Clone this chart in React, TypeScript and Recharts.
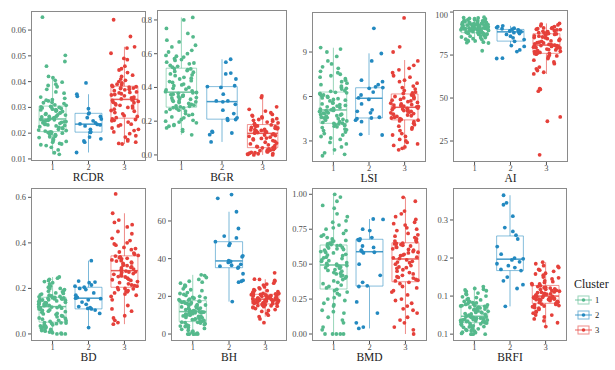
import { ComposedChart, Scatter, XAxis, YAxis, ReferenceArea, ReferenceLine } from 'recharts'

const clusters = [1, 2, 3]
const clusterNames = ['1', '2', '3']
const clusterColors = ['#55b98c', '#2389c0', '#e5403a']
const serif = '"Liberation Serif", "Times New Roman", serif'

// RCDR
const rcdr1 = [0.0118, 0.0124, 0.0145, 0.0152, 0.0158, 0.016, 0.0165, 0.0172, 0.0178, 0.0183, 0.0188, 0.0192, 0.0196, 0.02, 0.0203, 0.0205,
  0.0208, 0.021, 0.0215, 0.0218, 0.022, 0.0225, 0.0228, 0.023, 0.0234, 0.0238, 0.024, 0.0244, 0.0247, 0.025, 0.0252, 0.0254,
  0.0256, 0.026, 0.0263, 0.0266, 0.027, 0.0273, 0.0276, 0.028, 0.0284, 0.0288, 0.029, 0.0293, 0.0296, 0.03, 0.0302, 0.0304,
  0.0308, 0.0315, 0.032, 0.0325, 0.033, 0.034, 0.0355, 0.037, 0.0385, 0.039, 0.0405, 0.0415, 0.046, 0.0478, 0.0502, 0.065,
  0.0135, 0.0155, 0.0168, 0.0175, 0.0186, 0.0194, 0.0199, 0.0204, 0.0212, 0.0222, 0.0232, 0.0236, 0.0242, 0.0245, 0.0249, 0.0253,
  0.0258, 0.0265, 0.0271, 0.0278, 0.0286, 0.0291, 0.0298, 0.0301, 0.031, 0.0318, 0.0328, 0.0335, 0.036, 0.038, 0.0398, 0.042]
const rcdr2 = [0.0125, 0.0165, 0.017, 0.0178, 0.0185, 0.0203, 0.0205, 0.0206, 0.0215, 0.0228, 0.0232, 0.0234, 0.0236, 0.024, 0.0248, 0.0255,
  0.026, 0.0265, 0.0275, 0.0278, 0.0295, 0.0343, 0.0351, 0.0395]
const rcdr3 = [0.0158, 0.016, 0.0165, 0.0175, 0.019, 0.0198, 0.0205, 0.021, 0.022, 0.0228, 0.0235, 0.0243, 0.025, 0.0255,
  0.026, 0.0268, 0.0275, 0.028, 0.0288, 0.0293, 0.03, 0.0305, 0.031, 0.0315, 0.032, 0.0323, 0.0327, 0.033,
  0.0333, 0.0337, 0.034, 0.0345, 0.035, 0.0353, 0.0358, 0.036, 0.0365, 0.037, 0.0373, 0.0376, 0.0379, 0.0381,
  0.0385, 0.039, 0.0395, 0.04, 0.041, 0.042, 0.0435, 0.0445, 0.046, 0.0485, 0.053, 0.0535, 0.0575, 0.064,
  0.017, 0.0185, 0.0215, 0.0232, 0.0248, 0.0253, 0.0265, 0.0285, 0.0298, 0.0308, 0.0318, 0.0329,
  0.0335, 0.0348, 0.0356, 0.0368, 0.0375, 0.038, 0.0388, 0.0405, 0.0425, 0.045, 0.049, 0.051]
// [whisker low, Q1, median, Q3, whisker high]
const rcdrBox = [[0.0118, 0.0206, 0.0255, 0.0305, 0.041], [0.0125, 0.0204, 0.0235, 0.0277, 0.0351], [0.0158, 0.0258, 0.0331, 0.0382, 0.0535]]

// BGR
const bgr1 = [0.119, 0.15, 0.16, 0.17, 0.18, 0.19, 0.195, 0.2, 0.21, 0.22, 0.235, 0.245, 0.255, 0.265, 0.275, 0.28,
  0.285, 0.29, 0.295, 0.3, 0.31, 0.315, 0.32, 0.33, 0.335, 0.34, 0.345, 0.35, 0.355, 0.36, 0.365, 0.37,
  0.375, 0.38, 0.39, 0.4, 0.41, 0.42, 0.43, 0.44, 0.45, 0.46, 0.47, 0.48, 0.49, 0.5, 0.505, 0.512,
  0.52, 0.53, 0.54, 0.55, 0.56, 0.57, 0.58, 0.59, 0.6, 0.62, 0.65, 0.67, 0.7, 0.75, 0.8, 0.815,
  0.14, 0.175, 0.205, 0.225, 0.24, 0.26, 0.27, 0.278, 0.288, 0.305, 0.318, 0.325, 0.338, 0.348, 0.358, 0.368,
  0.385, 0.395, 0.415, 0.435, 0.455, 0.475, 0.495, 0.51, 0.525, 0.545, 0.565, 0.585, 0.61, 0.64, 0.68, 0.72]
const bgr2 = [0.077, 0.12, 0.13, 0.135, 0.14, 0.205, 0.21, 0.215, 0.22, 0.245, 0.265, 0.3, 0.315, 0.32, 0.32, 0.36,
  0.4, 0.405, 0.41, 0.45, 0.48, 0.485, 0.55, 0.567]
const bgr3 = [0.0, 0.003, 0.005, 0.008, 0.01, 0.013, 0.015, 0.02, 0.025, 0.028, 0.032, 0.036, 0.04, 0.042,
  0.045, 0.05, 0.055, 0.06, 0.07, 0.075, 0.08, 0.09, 0.095, 0.1, 0.11, 0.115, 0.12, 0.125,
  0.13, 0.133, 0.136, 0.14, 0.145, 0.148, 0.15, 0.155, 0.16, 0.163, 0.167, 0.17, 0.175, 0.178,
  0.185, 0.19, 0.2, 0.205, 0.21, 0.215, 0.22, 0.23, 0.24, 0.25, 0.26, 0.285, 0.34, 0.35,
  0.0, 0.007, 0.018, 0.023, 0.03, 0.038, 0.048, 0.065, 0.085, 0.098, 0.105, 0.118,
  0.131, 0.138, 0.143, 0.152, 0.158, 0.172, 0.182, 0.195, 0.208, 0.225, 0.235, 0.27]
const bgrBox = [[0.119, 0.283, 0.372, 0.514, 0.815], [0.077, 0.212, 0.316, 0.405, 0.567], [0.0, 0.043, 0.128, 0.18, 0.342]]

// LSI
const lsi1 = [2.0, 2.1, 2.4, 2.6, 2.9, 3.1, 3.3, 3.4, 3.6, 3.7, 3.8, 3.9, 4.0, 4.05, 4.1, 4.15,
  4.2, 4.3, 4.35, 4.4, 4.5, 4.55, 4.6, 4.7, 4.75, 4.8, 4.85, 4.9, 4.95, 5.0, 5.05, 5.08,
  5.1, 5.2, 5.25, 5.3, 5.4, 5.5, 5.6, 5.7, 5.8, 5.85, 5.9, 6.0, 6.1, 6.15, 6.2, 6.28,
  6.35, 6.5, 6.6, 6.7, 6.8, 7.0, 7.1, 7.3, 7.5, 7.6, 7.9, 8.2, 8.4, 9.0, 9.2, 9.3,
  2.2, 2.8, 3.2, 3.5, 3.75, 3.95, 4.08, 4.18, 4.25, 4.45, 4.58, 4.68, 4.78, 4.88, 4.98, 5.06,
  5.15, 5.35, 5.45, 5.55, 5.75, 5.95, 6.05, 6.25, 6.4, 6.55, 6.9, 7.2, 7.4, 7.7, 8.0, 8.7]
const lsi2 = [3.4, 3.45, 4.3, 4.4, 4.5, 4.55, 4.6, 4.9, 5.0, 5.1, 5.5, 5.8, 5.9, 6.1, 6.3, 6.55,
  6.6, 6.65, 6.8, 7.0, 7.1, 8.4, 8.9, 10.6]
const lsi3 = [2.4, 2.5, 2.6, 2.7, 2.9, 3.1, 3.3, 3.5, 3.7, 3.9, 4.0, 4.2, 4.3, 4.4,
  4.45, 4.5, 4.6, 4.65, 4.7, 4.8, 4.9, 4.95, 5.0, 5.05, 5.1, 5.15, 5.2, 5.25,
  5.3, 5.35, 5.4, 5.45, 5.5, 5.6, 5.65, 5.7, 5.8, 5.9, 5.95, 6.0, 6.1, 6.15,
  6.2, 6.3, 6.5, 6.7, 6.9, 7.1, 7.3, 7.6, 7.8, 8.1, 8.4, 9.0, 9.35, 11.3,
  2.8, 3.0, 3.4, 3.8, 4.1, 4.35, 4.55, 4.75, 4.85, 5.02, 5.12, 5.22,
  5.32, 5.42, 5.55, 5.75, 5.85, 6.05, 6.25, 6.4, 6.6, 7.0, 7.4, 7.9]
const lsiBox = [[2.06, 4.19, 5.09, 6.3, 9.29], [3.4, 4.55, 5.88, 6.59, 8.91], [2.39, 4.42, 5.27, 6.17, 8.46]]

// AI
const ai1 = [77.5, 82, 82.5, 83, 83.5, 84, 84.5, 85, 85.5, 86, 86.5, 87, 87.3, 87.6, 87.8, 88,
  88.2, 88.4, 88.6, 88.8, 89, 89.2, 89.4, 89.6, 89.8, 90, 90.1, 90.2, 90.3, 90.4, 90.5, 90.6,
  90.7, 90.8, 90.9, 91, 91.2, 91.4, 91.6, 91.8, 92, 92.2, 92.4, 92.6, 92.7, 92.8, 92.9, 93,
  93.2, 93.4, 93.6, 93.8, 94, 94.2, 94.4, 94.6, 94.8, 95, 95.3, 95.6, 96, 96.3, 96.6, 97,
  82.2, 83.2, 84.2, 85.2, 86.2, 86.8, 87.2, 87.9, 88.1, 88.5, 88.9, 89.3, 89.7, 90.05, 90.25, 90.45,
  90.65, 90.85, 91.1, 91.5, 91.9, 92.3, 92.55, 92.95, 93.3, 93.7, 94.1, 94.5, 94.9, 95.5, 96.1, 96.8]
const ai2 = [73, 73.2, 77, 78, 80, 80.5, 83, 84, 85, 86, 87, 87.5, 88, 88.3, 88.6, 89,
  89.3, 89.6, 90, 90.3, 90.6, 91, 91.5, 92]
const ai3 = [17, 36.5, 39, 54, 55, 55.5, 64, 65, 66, 67, 70, 72, 74, 75.5,
  76, 76.5, 77, 77.5, 78, 78.5, 79, 79.3, 79.6, 80, 80.2, 80.4, 80.6, 80.8,
  81, 81.5, 82, 82.5, 83, 83.5, 84, 84.5, 85, 85.5, 86, 86.5, 87, 87.3,
  87.5, 88, 88.3, 88.6, 89, 89.3, 89.6, 90, 90.3, 90.6, 91, 92, 93, 93.4,
  68, 71, 73, 74.5, 75, 75.8, 76.2, 77.2, 78.2, 79.1, 79.8, 80.5,
  81.2, 82.2, 83.2, 84.2, 85.2, 86.2, 87.8, 88.8, 89.8, 90.8, 91.5, 92.5]
const aiBox = [[82, 88, 90.5, 93, 97], [80, 83.1, 88.5, 89.9, 92], [64, 76, 80.8, 87.4, 93.4]]

// BD
const bd1 = [0.0, 0.0, 0.005, 0.008, 0.01, 0.012, 0.015, 0.02, 0.025, 0.03, 0.035, 0.038, 0.042, 0.045, 0.048, 0.05,
  0.055, 0.06, 0.065, 0.07, 0.075, 0.08, 0.085, 0.09, 0.095, 0.1, 0.103, 0.106, 0.11, 0.113, 0.116, 0.119,
  0.122, 0.125, 0.128, 0.13, 0.133, 0.136, 0.139, 0.142, 0.145, 0.148, 0.15, 0.152, 0.154, 0.156, 0.158, 0.16,
  0.163, 0.167, 0.17, 0.175, 0.18, 0.185, 0.19, 0.195, 0.2, 0.21, 0.215, 0.22, 0.23, 0.24, 0.245, 0.25,
  0.0, 0.003, 0.018, 0.028, 0.033, 0.04, 0.046, 0.049, 0.058, 0.068, 0.078, 0.088, 0.098, 0.108, 0.114, 0.118,
  0.124, 0.131, 0.137, 0.143, 0.149, 0.153, 0.157, 0.159, 0.165, 0.172, 0.178, 0.188, 0.198, 0.205, 0.225, 0.235]
const bd2 = [0.028, 0.09, 0.105, 0.11, 0.112, 0.115, 0.12, 0.13, 0.14, 0.15, 0.155, 0.157, 0.16, 0.17, 0.18, 0.195,
  0.2, 0.205, 0.21, 0.215, 0.225, 0.228, 0.232, 0.322]
const bd3 = [0.043, 0.05, 0.06, 0.08, 0.1, 0.125, 0.15, 0.165, 0.175, 0.18, 0.185, 0.19, 0.195, 0.2,
  0.21, 0.215, 0.22, 0.23, 0.235, 0.24, 0.245, 0.25, 0.255, 0.26, 0.265, 0.27, 0.273, 0.276,
  0.28, 0.285, 0.29, 0.295, 0.3, 0.305, 0.31, 0.315, 0.32, 0.325, 0.33, 0.335, 0.338, 0.342,
  0.345, 0.35, 0.36, 0.37, 0.38, 0.39, 0.4, 0.42, 0.44, 0.47, 0.49, 0.5, 0.53, 0.615,
  0.07, 0.11, 0.17, 0.188, 0.198, 0.203, 0.212, 0.225, 0.238, 0.252, 0.262, 0.272,
  0.282, 0.292, 0.302, 0.312, 0.322, 0.332, 0.355, 0.375, 0.395, 0.41, 0.45, 0.48]
const bdBox = [[0.0, 0.052, 0.12, 0.161, 0.25], [0.028, 0.11, 0.157, 0.205, 0.322], [0.043, 0.205, 0.278, 0.343, 0.53]]

// BH
const bh1 = [0, 0, 0, 0, 0, 0.5, 1, 2, 3, 3.5, 4, 4.5, 5, 5.5, 6, 6.3,
  6.8, 7.2, 7.6, 8, 8.4, 8.8, 9.2, 9.6, 10, 10.3, 10.6, 10.9, 11.2, 11.4, 11.6, 11.8,
  12, 12.4, 12.8, 13.2, 13.6, 14, 14.4, 14.8, 15.2, 15.6, 16, 16.4, 16.8, 17.1, 17.4, 17.6,
  18, 18.5, 19, 19.5, 20, 21, 22, 23, 24, 25, 26, 27, 28, 30, 31, 31.4,
  0, 0, 1.5, 2.5, 4.2, 4.8, 5.8, 6.2, 7, 7.8, 8.6, 9.4, 10.1, 10.8, 11.3, 11.7,
  12.2, 13, 13.8, 14.6, 15.4, 16.2, 16.6, 17.3, 18.2, 19.2, 20.5, 21.5, 23.5, 25.5, 27.5, 29]
const bh2 = [17.2, 27.5, 28, 28.5, 32, 35, 35.5, 36, 36.5, 37, 38, 38.5, 39, 41, 41.5, 47,
  48, 49, 51, 52, 56, 64.9, 72, 74]
const bh3 = [6, 8, 9.2, 11, 12.5, 13.5, 14, 14.5, 14.8, 15, 15.3, 15.5, 15.7, 15.9,
  16.1, 16.3, 16.5, 16.7, 16.9, 17.1, 17.3, 17.5, 17.7, 17.9, 18.1, 18.2, 18.3, 18.4,
  18.6, 18.8, 19, 19.2, 19.4, 19.6, 19.8, 20, 20.2, 20.4, 20.6, 20.8, 20.9, 21,
  21.3, 21.6, 22, 22.5, 23, 23.5, 24, 25, 26, 27, 28, 29, 29.1, 32.5,
  10, 12, 13, 14.2, 15.1, 15.8, 16.2, 16.6, 17, 17.4, 17.8, 18.35,
  18.7, 19.1, 19.5, 19.9, 20.3, 20.7, 21.5, 22.2, 23.2, 24.5, 26.5, 28.5]
const bhBox = [[0, 6.6, 11.9, 17.7, 31.4], [17.2, 35.2, 38.8, 49, 64.9], [9.2, 16, 18.5, 21.1, 29.1]]

// BMD
const bmd1 = [0, 0, 0, 0, 0.03, 0.08, 0.12, 0.15, 0.17, 0.2, 0.22, 0.24, 0.26, 0.28, 0.3, 0.32,
  0.33, 0.35, 0.37, 0.38, 0.4, 0.41, 0.42, 0.43, 0.44, 0.45, 0.46, 0.47, 0.48, 0.485, 0.49, 0.493,
  0.5, 0.51, 0.52, 0.53, 0.54, 0.55, 0.56, 0.57, 0.58, 0.59, 0.6, 0.61, 0.62, 0.625, 0.63, 0.635,
  0.64, 0.65, 0.66, 0.67, 0.68, 0.7, 0.72, 0.74, 0.76, 0.8, 0.81, 0.86, 0.9, 0.95, 0.98, 1.0,
  0, 0.05, 0.1, 0.16, 0.21, 0.25, 0.29, 0.31, 0.34, 0.36, 0.39, 0.415, 0.435, 0.455, 0.475, 0.49,
  0.505, 0.525, 0.545, 0.565, 0.585, 0.605, 0.615, 0.632, 0.645, 0.665, 0.69, 0.71, 0.75, 0.78, 0.84, 0.92]
const bmd2 = [0.04, 0.05, 0.08, 0.15, 0.23, 0.34, 0.345, 0.37, 0.42, 0.5, 0.58, 0.585, 0.59, 0.6, 0.62, 0.63,
  0.67, 0.675, 0.68, 0.69, 0.74, 0.75, 0.82, 0.823]
const bmd3 = [0, 0.03, 0.05, 0.08, 0.12, 0.15, 0.18, 0.2, 0.22, 0.25, 0.28, 0.31, 0.34, 0.37,
  0.38, 0.39, 0.4, 0.41, 0.43, 0.44, 0.46, 0.47, 0.48, 0.49, 0.5, 0.51, 0.52, 0.53,
  0.54, 0.55, 0.56, 0.57, 0.58, 0.59, 0.6, 0.61, 0.62, 0.63, 0.635, 0.64, 0.645, 0.65,
  0.66, 0.67, 0.68, 0.7, 0.72, 0.74, 0.76, 0.78, 0.8, 0.82, 0.84, 0.88, 0.95, 0.978,
  0.1, 0.17, 0.24, 0.3, 0.33, 0.36, 0.385, 0.405, 0.42, 0.45, 0.475, 0.515,
  0.545, 0.565, 0.585, 0.605, 0.625, 0.648, 0.665, 0.69, 0.71, 0.75, 0.79, 0.86]
const bmdBox = [[0, 0.322, 0.494, 0.637, 1.0], [0.04, 0.343, 0.589, 0.678, 0.823], [0, 0.374, 0.537, 0.653, 0.978]]

// BRFI
const brfi1 = [0, 0, 0, 0.002, 0.005, 0.008, 0.01, 0.012, 0.015, 0.018, 0.02, 0.022, 0.024, 0.026, 0.028, 0.029,
  0.031, 0.032, 0.033, 0.034, 0.035, 0.036, 0.037, 0.038, 0.039, 0.04, 0.041, 0.042, 0.043, 0.044, 0.045, 0.046,
  0.048, 0.05, 0.052, 0.054, 0.056, 0.058, 0.06, 0.062, 0.064, 0.066, 0.068, 0.07, 0.071, 0.072, 0.074, 0.075,
  0.077, 0.079, 0.081, 0.083, 0.085, 0.087, 0.09, 0.093, 0.096, 0.1, 0.104, 0.108, 0.112, 0.116, 0.12, 0.125,
  0, 0.004, 0.009, 0.014, 0.019, 0.023, 0.027, 0.03, 0.0315, 0.0335, 0.0355, 0.0375, 0.0395, 0.0415, 0.0435, 0.0455,
  0.049, 0.053, 0.057, 0.061, 0.065, 0.069, 0.073, 0.0745, 0.078, 0.082, 0.086, 0.091, 0.098, 0.106, 0.114, 0.118]
const brfi2 = [0.073, 0.12, 0.13, 0.14, 0.15, 0.167, 0.17, 0.175, 0.18, 0.185, 0.19, 0.195, 0.198, 0.2, 0.21, 0.23,
  0.25, 0.26, 0.27, 0.28, 0.31, 0.34, 0.345, 0.365]
const brfi3 = [0.02, 0.03, 0.04, 0.045, 0.05, 0.055, 0.06, 0.065, 0.07, 0.072, 0.075, 0.077, 0.079, 0.08,
  0.082, 0.084, 0.086, 0.088, 0.09, 0.091, 0.092, 0.093, 0.094, 0.095, 0.096, 0.097, 0.098, 0.099,
  0.101, 0.103, 0.105, 0.107, 0.109, 0.111, 0.113, 0.115, 0.117, 0.119, 0.121, 0.123, 0.125, 0.127,
  0.13, 0.133, 0.136, 0.14, 0.145, 0.15, 0.155, 0.16, 0.165, 0.17, 0.175, 0.18, 0.185, 0.189,
  0.035, 0.05, 0.058, 0.068, 0.074, 0.078, 0.083, 0.087, 0.0905, 0.0925, 0.0945, 0.0965,
  0.102, 0.106, 0.11, 0.114, 0.118, 0.122, 0.132, 0.138, 0.148, 0.158, 0.168, 0.178]
const brfiBox = [[0, 0.03, 0.047, 0.0755, 0.125], [0.073, 0.167, 0.197, 0.258, 0.365], [0.02, 0.081, 0.1, 0.128, 0.189]]

const panels = [
  { title: 'RCDR', values: [rcdr1, rcdr2, rcdr3], box: rcdrBox, domain: [0.0092, 0.0674], ticks: [0.01, 0.02, 0.03, 0.04, 0.05, 0.06], tickLabels: ['0.01', '0.02', '0.03', '0.04', '0.05', '0.06'] },
  { title: 'BGR', values: [bgr1, bgr2, bgr3], box: bgrBox, domain: [-0.036, 0.859], ticks: [0, 0.2, 0.4, 0.6, 0.8], tickLabels: ['0.0', '0.2', '0.4', '0.6', '0.8'] },
  { title: 'LSI', values: [lsi1, lsi2, lsi3], box: lsiBox, domain: [1.58, 11.7], ticks: [3, 6, 9], tickLabels: ['3', '6', '9'] },
  { title: 'AI', values: [ai1, ai2, ai3], box: aiBox, domain: [12.8, 101.2], ticks: [25, 50, 75, 100], tickLabels: ['25', '50', '75', '100'] },
  { title: 'BD', values: [bd1, bd2, bd3], box: bdBox, domain: [-0.031, 0.641], ticks: [0, 0.2, 0.4, 0.6], tickLabels: ['0.0', '0.2', '0.4', '0.6'] },
  { title: 'BH', values: [bh1, bh2, bh3], box: bhBox, domain: [-3.7, 77.5], ticks: [0, 20, 40, 60], tickLabels: ['0', '20', '40', '60'] },
  { title: 'BMD', values: [bmd1, bmd2, bmd3], box: bmdBox, domain: [-0.05, 1.045], ticks: [0, 0.25, 0.5, 0.75, 1], tickLabels: ['0.00', '0.25', '0.50', '0.75', '1.00'] },
  { title: 'BRFI', values: [brfi1, brfi2, brfi3], box: brfiBox, domain: [-0.018, 0.384], ticks: [0, 0.1, 0.2, 0.3], tickLabels: ['0.1', '0.1', '0.2', '0.3'] },
]

// plot-frame placement of each panel on the page
const frames = [
  { l: 31, t: 11, w: 115, h: 150 },
  { l: 157, t: 10, w: 130, h: 151 },
  { l: 312, t: 12, w: 114, h: 150 },
  { l: 453, t: 10, w: 115, h: 152 },
  { l: 31, t: 188, w: 115, h: 153 },
  { l: 171, t: 188, w: 116, h: 153 },
  { l: 312, t: 188, w: 115, h: 153 },
  { l: 453, t: 188, w: 114, h: 153 },
]

// deterministic horizontal jitter, like geom_jitter(width = 0.4)
function jitter(i: number, k: number) {
  const h = Math.sin((i + 1) * 12.9898 + (k + 1) * 78.233) * 43758.5453
  return ((h - Math.floor(h)) * 2 - 1) * 0.39
}

const Dot = (color: string) => (props: any) => (
  <circle cx={props.cx} cy={props.cy} r={1.9} fill={color} />
)

const css = `
.recharts-text, .recharts-cartesian-axis-tick-value, .serif-text { font-family: ${serif}; }
`

function Panel({ p, f, k }: { p: any; f: any; k: number }) {
  const yw = 30
  const xh = 14
  const series = p.values.map((vals: number[], ci: number) =>
    vals.map((y, i) => ({ x: clusters[ci] + jitter(i, k * 3 + ci), y })),
  )
  return (
    <div style={{ position: 'absolute', left: f.l - yw, top: f.t }}>
      <ComposedChart width={f.w + yw} height={f.h + xh} margin={{ top: 0, right: 0, bottom: 0, left: 0 }}>
        <XAxis
          type="number"
          dataKey="x"
          domain={[0.4, 3.6]}
          ticks={clusters}
          allowDataOverflow
          height={xh}
          axisLine={false}
          tickSize={3}
          tickMargin={0}
          tickLine={{ stroke: '#555' }}
          tick={{ fontSize: 8.5, fill: '#4d4d4d', fontFamily: 'Liberation Serif' }}
        />
        <YAxis
          type="number"
          dataKey="y"
          domain={p.domain}
          ticks={p.ticks}
          allowDataOverflow
          width={yw}
          axisLine={false}
          tickSize={3}
          tickMargin={2}
          tickLine={{ stroke: '#555' }}
          tick={{ fontSize: 8.5, fill: '#4d4d4d', fontFamily: 'Liberation Serif' }}
          tickFormatter={(v: number) => p.tickLabels[p.ticks.indexOf(v)] ?? String(v)}
        />
        {p.box.map((b: number[], ci: number) => {
          const c = clusters[ci]
          const col = clusterColors[ci]
          return [
            <ReferenceArea key={'a' + ci} x1={c - 0.375} x2={c + 0.375} y1={b[1]} y2={b[3]} fill="none" stroke={col} strokeOpacity={0.55} strokeWidth={1} ifOverflow="visible" />,
            <ReferenceLine key={'u' + ci} segment={[{ x: c, y: b[3] }, { x: c, y: b[4] }]} stroke={col} strokeOpacity={0.6} ifOverflow="visible" />,
            <ReferenceLine key={'d' + ci} segment={[{ x: c, y: b[0] }, { x: c, y: b[1] }]} stroke={col} strokeOpacity={0.6} ifOverflow="visible" />,
            <ReferenceLine key={'m' + ci} segment={[{ x: c - 0.375, y: b[2] }, { x: c + 0.375, y: b[2] }]} stroke={col} strokeWidth={1.5} strokeOpacity={0.85} ifOverflow="visible" />,
          ]
        })}
        {series.map((d: any[], ci: number) => (
          <Scatter key={ci} name={clusterNames[ci]} data={d} isAnimationActive={false} shape={Dot(clusterColors[ci])} />
        ))}
      </ComposedChart>
      <div
        style={{
          position: 'absolute',
          left: yw,
          top: 0,
          width: f.w,
          height: f.h,
          border: '1px solid #8a8a8a',
          boxSizing: 'border-box',
          pointerEvents: 'none',
        }}
      />
      <div
        className="serif-text"
        style={{
          position: 'absolute',
          left: yw,
          top: f.h + 11,
          width: f.w,
          textAlign: 'center',
          fontSize: 11.5,
          lineHeight: '11px',
          color: '#1a1a1a',
          whiteSpace: 'nowrap',
        }}
      >
        {p.title}
      </div>
    </div>
  )
}

function ClusterLegend() {
  return (
    <svg style={{ position: 'absolute', left: 570, top: 272 }} width={45} height={68}>
      <text className="serif-text" x={4} y={16} fontSize={12} fill="#1a1a1a">Cluster</text>
      {clusterNames.map((n, i) => {
        const cy = 28 + i * 15
        const col = clusterColors[i]
        return (
          <g key={n}>
            <rect x={8} y={cy - 4} width={11} height={8} fill="white" stroke={col} strokeOpacity={0.6} />
            <line x1={5} x2={22} y1={cy} y2={cy} stroke={col} strokeOpacity={0.8} />
            <circle cx={13.5} cy={cy} r={1.8} fill={col} />
            <text className="serif-text" x={25} y={cy + 3} fontSize={8.5} fill="#1a1a1a">{n}</text>
          </g>
        )
      })}
    </svg>
  )
}

export default function App() {
  return (
    <div style={{ position: 'absolute', left: 0, top: 0, width: 615, height: 370, background: '#fff' }}>
      <style>{css}</style>
      {panels.map((p, k) => (
        <Panel key={p.title} p={p} f={frames[k]} k={k} />
      ))}
      <ClusterLegend />
    </div>
  )
}
